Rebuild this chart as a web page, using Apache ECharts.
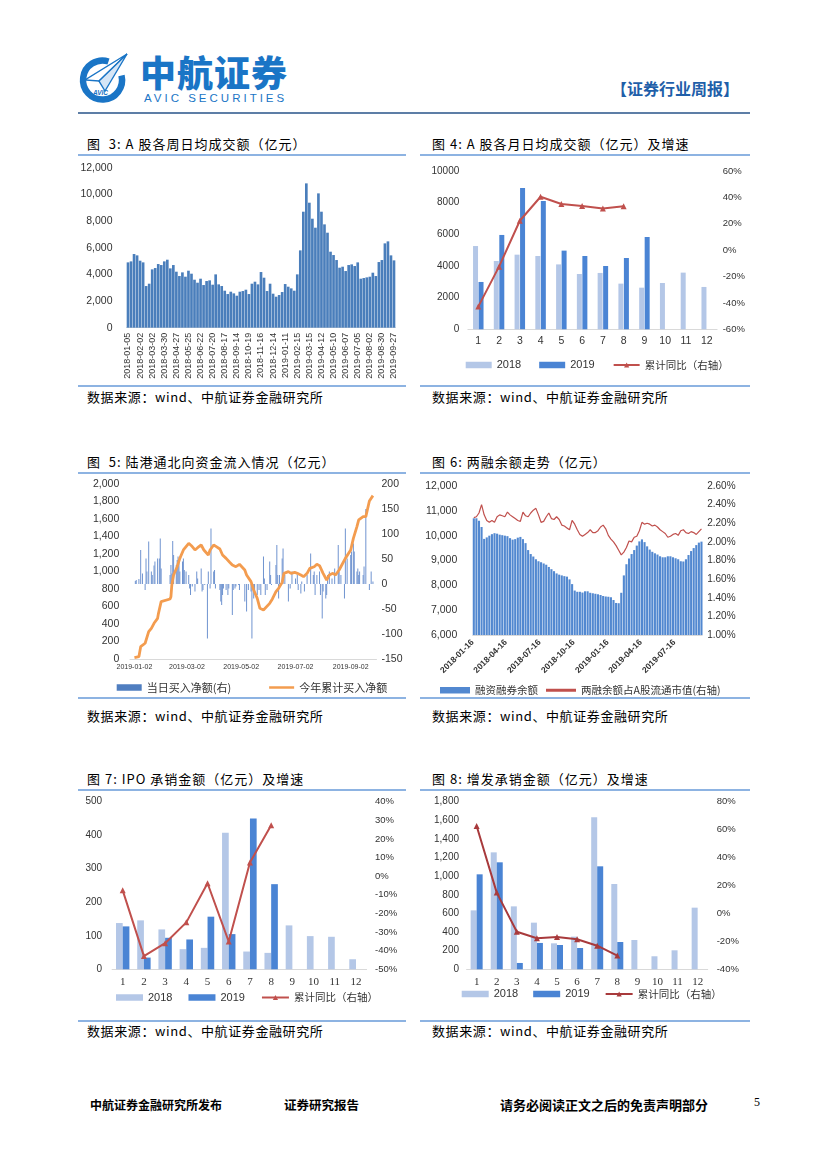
<!DOCTYPE html>
<html lang="zh">
<head>
<meta charset="utf-8">
<title>证券行业周报</title>
<script src="https://cdn.jsdelivr.net/npm/echarts@6.0.0/dist/echarts.min.js"></script>
<style>
html,body{margin:0;padding:0;background:#fff;}
#page{position:relative;width:827px;height:1169px;overflow:hidden;font-family:"Noto Sans CJK SC","Noto Sans",sans-serif;color:#000;}
.ch{position:absolute;left:0;top:0;width:827px;height:1169px;}
.t{position:absolute;white-space:pre;line-height:16px;height:16px;}
.ttl{font-size:13px;letter-spacing:1px;}
.src{font-size:13px;letter-spacing:0.6px;}
.rule{position:absolute;height:2px;background:#8db3e2;}
.ft{font-weight:bold;}
</style>
</head>
<body>
<div id="page">
  <!-- header -->
  <svg style="position:absolute;left:78px;top:50px" width="52" height="54" viewBox="0 0 52 54">
    <path d="M43.5 25.5 A19.5 19.5 0 1 1 30.5 11.5" fill="none" stroke="#1a75c6" stroke-width="6.5"/>
    <polygon points="49,4 7,30 21,31" fill="#ffffff" stroke="#1a75c6" stroke-width="1.4"/>
    <polygon points="49,4 21,31 27,41" fill="#d6e6f6" stroke="#1a75c6" stroke-width="1.4"/>
    <text x="15" y="45" font-size="6.5" font-style="italic" font-weight="bold" fill="#1a75c6" font-family="Liberation Sans">AVIC</text>
  </svg>
  <div class="t" style="left:140px;top:50px;height:42px;line-height:42px;font-size:36px;font-weight:900;color:#1a75c6;letter-spacing:1px;">中航证券</div>
  <div class="t" style="left:144px;top:90px;font-size:11.5px;font-family:'Liberation Sans';letter-spacing:3px;color:#1a75c6;">AVIC SECURITIES</div>
  <div class="t" style="left:611px;top:80px;font-size:16px;font-weight:bold;color:#1f5fa9;">【证券行业周报】</div>
  <div style="position:absolute;left:78px;top:112px;width:672px;height:2px;background:#5d7ea6;"></div>

  <!-- titles row 1 -->
  <div class="t ttl" style="left:87px;top:136px;">图  3: A 股各周日均成交额（亿元）</div>
  <div class="t ttl" style="left:432px;top:136px;">图 4: A 股各月日均成交额（亿元）及增速</div>
  <div class="rule" style="left:78px;top:154px;width:328px;"></div>
  <div class="rule" style="left:420px;top:154px;width:330px;"></div>
  <div class="rule" style="left:78px;top:385px;width:328px;"></div>
  <div class="rule" style="left:420px;top:385px;width:330px;"></div>
  <div class="t src" style="left:87px;top:389px;">数据来源：wind、中航证券金融研究所</div>
  <div class="t src" style="left:432px;top:389px;">数据来源：wind、中航证券金融研究所</div>

  <!-- titles row 2 -->
  <div class="t ttl" style="left:87px;top:454px;">图  5: 陆港通北向资金流入情况（亿元）</div>
  <div class="t ttl" style="left:432px;top:454px;">图 6: 两融余额走势（亿元）</div>
  <div class="rule" style="left:78px;top:472px;width:328px;"></div>
  <div class="rule" style="left:420px;top:472px;width:330px;"></div>
  <div class="rule" style="left:78px;top:697px;width:328px;"></div>
  <div class="rule" style="left:420px;top:697px;width:330px;"></div>
  <div class="t src" style="left:87px;top:708px;">数据来源：wind、中航证券金融研究所</div>
  <div class="t src" style="left:432px;top:708px;">数据来源：wind、中航证券金融研究所</div>

  <!-- titles row 3 -->
  <div class="t ttl" style="left:87px;top:771px;">图 7: IPO 承销金额（亿元）及增速</div>
  <div class="t ttl" style="left:432px;top:771px;">图 8: 增发承销金额（亿元）及增速</div>
  <div class="rule" style="left:78px;top:789px;width:328px;"></div>
  <div class="rule" style="left:420px;top:789px;width:330px;"></div>
  <div class="rule" style="left:78px;top:1020px;width:328px;"></div>
  <div class="rule" style="left:420px;top:1020px;width:330px;"></div>
  <div class="t src" style="left:87px;top:1023px;">数据来源：wind、中航证券金融研究所</div>
  <div class="t src" style="left:432px;top:1023px;">数据来源：wind、中航证券金融研究所</div>

  <!-- footer -->
  <div class="t ft" style="left:90px;top:1097px;font-size:12px;">中航证券金融研究所发布</div>
  <div class="t ft" style="left:284px;top:1097px;font-size:12.5px;">证券研究报告</div>
  <div class="t ft" style="left:500px;top:1097px;font-size:13px;">请务必阅读正文之后的免责声明部分</div>
  <div class="t" style="left:754px;top:1094px;font-size:12px;font-family:'Liberation Serif';">5</div>

  <div id="c3" class="ch"></div>
  <div id="c4" class="ch"></div>
  <div id="c5" class="ch"></div>
  <div id="c6" class="ch"></div>
  <div id="c7" class="ch"></div>
  <div id="c8" class="ch"></div>
</div>
<script>
// ---------------- data ----------------
const months = ['1','2','3','4','5','6','7','8','9','10','11','12'];

// Fig 3: weekly average daily turnover (亿元)
const c3Weeks = [
 '2018-01-05','2018-01-12','2018-01-19','2018-01-26','2018-02-02','2018-02-09','2018-02-16','2018-02-23',
 '2018-03-02','2018-03-09','2018-03-16','2018-03-23','2018-03-30','2018-04-06','2018-04-13','2018-04-20',
 '2018-04-27','2018-05-04','2018-05-11','2018-05-18','2018-05-25','2018-06-01','2018-06-08','2018-06-15',
 '2018-06-22','2018-06-29','2018-07-06','2018-07-13','2018-07-20','2018-07-27','2018-08-03','2018-08-10',
 '2018-08-17','2018-08-24','2018-08-31','2018-09-07','2018-09-14','2018-09-21','2018-09-28','2018-10-12',
 '2018-10-19','2018-10-26','2018-11-02','2018-11-09','2018-11-16','2018-11-23','2018-11-30','2018-12-07',
 '2018-12-14','2018-12-21','2018-12-28','2019-01-04','2019-01-11','2019-01-18','2019-01-25','2019-02-01',
 '2019-02-15','2019-02-22','2019-03-01','2019-03-08','2019-03-15','2019-03-22','2019-03-29','2019-04-05',
 '2019-04-12','2019-04-19','2019-04-26','2019-05-03','2019-05-10','2019-05-17','2019-05-24','2019-05-31',
 '2019-06-07','2019-06-14','2019-06-21','2019-06-28','2019-07-05','2019-07-12','2019-07-19','2019-07-26',
 '2019-08-02','2019-08-09','2019-08-16','2019-08-23','2019-08-30','2019-09-06','2019-09-13','2019-09-20',
 '2019-09-27'];
const c3Turnover = [
 4900,4975,5525,5425,5025,4900,3125,3300,4375,4475,4775,4700,4975,5100,4450,4700,
 4200,3875,4150,3825,4275,4050,3600,3375,3675,3200,3500,3550,3225,4000,3250,3125,
 2775,2525,2700,2575,2400,2700,2750,2850,2525,3300,3450,3250,4175,3750,2750,3300,
 2550,2325,2450,2675,3275,3075,2950,2775,4000,5800,8700,10825,9375,8175,7500,10075,
 8700,7750,7125,5700,5450,5075,4500,4575,4250,4700,4750,4625,4900,3675,3725,3775,
 3825,4125,3875,4925,5075,6325,6475,5425,5050];

// Fig 4: monthly average daily turnover and cumulative YoY
const c4Avg2018 = [5260,4315,4715,4630,4100,3495,3560,2885,2630,2925,3580,2675];
const c4Avg2019 = [2990,5960,8925,8105,4970,4630,4000,4505,5830];
const c4YoY = [-42.8,-12.5,22.3,40.5,35,33.5,31.5,33.2];

// Fig 5: northbound flows (daily bars, right axis; cumulative line, left axis)
const c5BarDates = [
 '01-03','01-04','01-07','01-09','01-11','01-14','01-15','01-16','01-18','01-21','01-22','01-24','01-25','01-28','01-30','01-31',
 '02-01','02-11','02-12','02-13','02-14','02-15','02-18','02-19','02-20','02-21','02-22','02-25','02-26','02-27',
 '03-01','03-04','03-05','03-06','03-08','03-11','03-13','03-14','03-18','03-19','03-20','03-22','03-25','03-26','03-28','03-29',
 '04-01','04-02','04-03','04-08','04-09','04-10','04-11','04-12','04-15','04-17','04-18','04-22','04-23','04-25','04-26','04-29','04-30',
 '05-06','05-08','05-10','05-13','05-14','05-16','05-17','05-20','05-22','05-24','05-27','05-28','05-29','05-31',
 '06-03','06-04','06-05','06-10','06-11','06-12','06-13','06-14','06-17','06-18','06-20','06-24','06-26','06-28',
 '07-02','07-04','07-05','07-08','07-09','07-12','07-15','07-19','07-22','07-23','07-24','07-26','07-29','07-30',
 '08-01','08-02','08-05','08-06','08-07','08-09','08-12','08-15','08-19','08-20','08-22','08-26','08-27','08-29',
 '09-02','09-03','09-05','09-06','09-09','09-10','09-11','09-12','09-16','09-17','09-19','09-23','09-25','09-27'];
const c5BarVals = [
 6,8,10,68,21,-12,51,25,85,25,18,37,45,51,51,91,
 31,18,38,21,86,58,38,48,55,45,25,45,51,28,
 25,18,-9,-22,-5,-15,25,11,31,-15,-12,-2,-109,25,-9,111,
 25,28,-9,-12,-35,-42,-22,-9,-12,-22,-9,-62,-12,-9,-5,-2,-12,
 -35,-55,-12,-15,-109,-29,-15,-22,-12,-22,55,11,-22,-12,
 45,18,-2,38,78,18,-29,18,51,71,18,-35,-9,25,
 11,18,-12,-19,5,-15,18,61,18,25,-22,18,25,-22,
 -69,-15,-29,-22,18,25,11,31,78,25,18,-29,111,51,
 58,65,81,65,25,31,18,25,18,35,150,-12,25,5];
const c5LineDates = [
 '01-02','01-07','01-09','01-14','01-16','01-18','01-21','01-24','01-28','01-29','02-01','02-11','02-12','02-13','02-15','02-19',
 '02-22','02-26','03-01','03-04','03-07','03-11','03-14','03-18','03-21','03-26','03-28','04-01','04-04','04-08','04-11','04-15',
 '04-19','04-22','04-26','04-30','05-06','05-08','05-13','05-16','05-20','05-23','05-27','05-29','06-03','06-06','06-10','06-13',
 '06-17','06-19','06-24','06-27','07-01','07-04','07-08','07-11','07-15','07-18','07-23','07-26','07-29','08-02','08-06','08-09',
 '08-13','08-16','08-20','08-23','08-27','09-02','09-05','09-09','09-11','09-16','09-19','09-23','09-25','09-27'];
const c5LineVals = [
 15,27,141,180,160,312,350,408,465,522,655,686,712,846,960,1055,
 1150,1246,1284,1322,1295,1246,1272,1303,1246,1189,1246,1303,1284,1257,1189,1150,
 1105,1074,1055,1082,1017,960,884,789,693,579,560,579,636,686,770,808,
 876,979,998,979,991,979,960,941,979,1036,1055,1082,1067,979,903,960,
 979,960,1017,1074,1150,1246,1379,1513,1589,1627,1627,1806,1817,1867];
const c5Ticks = ['2019-01-02','2019-03-02','2019-05-02','2019-07-02','2019-09-02'];

// Fig 6: margin balance (weekly) and ratio to A-share float cap
const c6Weeks = [
 '2018-01-19','2018-01-26','2018-02-02','2018-02-09','2018-02-16','2018-02-23','2018-03-02','2018-03-09','2018-03-16','2018-03-23',
 '2018-03-30','2018-04-06','2018-04-13','2018-04-20','2018-04-27','2018-05-04','2018-05-11','2018-05-18','2018-05-25','2018-06-01',
 '2018-06-08','2018-06-15','2018-06-22','2018-06-29','2018-07-06','2018-07-13','2018-07-20','2018-07-27','2018-08-03','2018-08-10',
 '2018-08-17','2018-08-24','2018-08-31','2018-09-07','2018-09-14','2018-09-21','2018-09-28','2018-10-05','2018-10-12','2018-10-19',
 '2018-10-26','2018-11-02','2018-11-09','2018-11-16','2018-11-23','2018-11-30','2018-12-07','2018-12-14','2018-12-21','2018-12-28',
 '2019-01-04','2019-01-11','2019-01-18','2019-01-25','2019-02-01','2019-02-08','2019-02-15','2019-02-22','2019-03-01','2019-03-08',
 '2019-03-15','2019-03-22','2019-03-29','2019-04-05','2019-04-12','2019-04-19','2019-04-26','2019-05-03','2019-05-10','2019-05-17',
 '2019-05-24','2019-05-31','2019-06-07','2019-06-14','2019-06-21','2019-06-28','2019-07-05','2019-07-12','2019-07-19','2019-07-26',
 '2019-08-02','2019-08-09','2019-08-16','2019-08-23','2019-08-30','2019-09-06','2019-09-13','2019-09-20','2019-09-27'];
const c6Balance = [
 10700,10700,10600,10350,9870,9930,10000,10060,10100,10080,
 10040,10020,10000,9980,9900,9840,9860,9920,9950,9860,
 9700,9420,9260,9160,9050,8970,8930,8880,8830,8740,
 8650,8570,8480,8430,8400,8370,8350,8240,8050,7790,
 7740,7740,7710,7760,7760,7700,7680,7660,7640,7610,
 7570,7550,7540,7520,7410,7290,7280,7700,8400,8850,
 9080,9260,9420,9600,9770,9850,9740,9570,9440,9350,
 9290,9240,9170,9130,9130,9170,9170,9130,9090,9050,
 8970,8960,9050,9220,9380,9500,9620,9720,9760];
const c6Ratio = [
 2.26,2.27,2.31,2.40,2.29,2.23,2.21,2.23,2.21,2.27,
 2.29,2.28,2.27,2.32,2.29,2.27,2.25,2.23,2.22,2.32,
 2.28,2.27,2.31,2.34,2.36,2.29,2.21,2.22,2.27,2.31,
 2.25,2.24,2.27,2.24,2.18,2.17,2.15,2.13,2.23,2.19,
 2.13,2.08,2.06,2.08,2.10,2.13,2.10,2.10,2.12,2.16,
 2.18,2.14,2.07,2.03,2.00,1.96,1.91,1.86,1.89,1.94,
 2.01,2.00,2.05,2.06,2.12,2.21,2.19,2.20,2.19,2.17,
 2.18,2.16,2.13,2.11,2.09,2.05,2.06,2.08,2.09,2.07,
 2.12,2.13,2.10,2.09,2.11,2.10,2.08,2.11,2.14];
const c6Ticks = ['2018-01-16','2018-04-16','2018-07-16','2018-10-16','2019-01-16','2019-04-16','2019-07-16'];

// Fig 7: IPO underwriting
const c7Ipo2018 = [138,146,119,60,64,407,53,49,131,99,97,30];
const c7Ipo2019 = [128,35,94,89,157,105,450,254];
const c7YoY = [-7.6,-42.9,-36,-24.8,-3.8,-35.1,7.4,27.4];

// Fig 8: follow-on offering underwriting
const c8Seo2018 = [633,1256,676,501,279,351,1632,916,315,140,204,662];
const c8Seo2019 = [1020,1149,68,283,261,229,1106,293];
const c8YoY = [62.6,14.9,-13.1,-17.8,-16.9,-18.5,-23.1,-30.2];

// ---------------- helpers ----------------
const SANS = 'Liberation Sans';
const SERIF = 'Liberation Serif';
const CJK = 'Noto Sans CJK SC';
const LBL = '#333333';
const LINE_ICON = 'path://M0,0H30V3H0Z';
const thousands = v => String(v).replace(/\B(?=(\d{3})+(?!\d))/g, ',');
const ts = s => { const p = s.split('-').map(Number); return new Date(p[0], p[1]-1, p[2]).getTime(); };
const pad = n => (n < 10 ? '0' : '') + n;
const fmtDate = v => { const d = new Date(v); return d.getFullYear() + '-' + pad(d.getMonth()+1) + '-' + pad(d.getDate()); };
const pageH = 1169, pageW = 827;
function grid(l, t, r, b) { return {left: l, top: t, right: pageW - r, bottom: pageH - b, containLabel: false, outerBoundsMode: 'none'}; }
function mk(id, opt) {
  try {
    const c = echarts.init(document.getElementById(id), null, {renderer: 'canvas'});
    opt.animation = false; c.setOption(opt);
  } catch (e) { console.error(id, e); }
}

// ---------------- Fig 3 ----------------
mk('c3', {
  grid: grid(126.5, 167.7, 395.5, 327.7),
  xAxis: {type: 'category', data: c3Weeks,
    axisLine: {lineStyle: {color: '#d9d9d9'}}, axisTick: {show: false},
    axisLabel: {interval: 3, rotate: 90, fontSize: 9, fontFamily: SANS, color: LBL, margin: 5}},
  yAxis: {type: 'value', min: 0, max: 12000, interval: 2000,
    axisLine: {show: false}, axisTick: {show: false}, splitLine: {show: false},
    axisLabel: {formatter: thousands, fontSize: 10.5, fontFamily: SANS, color: LBL, margin: 14}},
  series: [{type: 'bar', data: c3Turnover, barCategoryGap: '12%', itemStyle: {color: '#4a7ebb'}}]
});

// ---------------- monthly dual-axis (Fig 4, 7, 8) ----------------
function monthly(id, c) {
  mk(id, {
    grid: grid(c.g[0], c.g[1], c.g[2], c.g[3]),
    legend: {left: c.lg[0], top: c.lg[1], padding: 0, itemWidth: c.lgW, itemHeight: 6.5, itemGap: c.lgGap,
      textStyle: {fontSize: 10.5, fontFamily: CJK, color: '#333'},
      data: [{name: '2018', icon: 'rect', textStyle: {fontFamily: SANS, fontSize: 11}},
             {name: '2019', icon: 'rect', textStyle: {fontFamily: SANS, fontSize: 11}},
             {name: '累计同比（右轴）'}]},
    xAxis: {type: 'category', data: months,
      axisLine: {lineStyle: {color: '#d9d9d9'}}, axisTick: {show: false},
      axisLabel: {fontSize: c.xFs, fontFamily: c.xFont, color: LBL, margin: c.xMargin}},
    yAxis: [
      {type: 'value', min: c.l[0], max: c.l[1], interval: c.l[2], position: 'left',
        axisLine: {show: false}, axisTick: {show: false}, splitLine: {show: false},
        axisLabel: {formatter: c.lFmt, fontSize: 10, fontFamily: SANS, color: LBL, margin: c.lMargin}},
      {type: 'value', min: c.r[0], max: c.r[1], interval: c.r[2], position: 'right',
        axisLine: {show: false}, axisTick: {show: false}, splitLine: {show: false},
        axisLabel: {formatter: '{value}%', fontSize: 9.5, fontFamily: SANS, color: LBL, margin: c.rMargin}}
    ],
    series: [
      {name: '2018', type: 'bar', data: c.a, barWidth: c.bw, barGap: c.gap, itemStyle: {color: '#b4c7e7'}},
      {name: '2019', type: 'bar', data: c.b, barWidth: c.bw, barGap: c.gap, itemStyle: {color: '#4a84d4'}},
      {name: '累计同比（右轴）', type: 'line', yAxisIndex: 1, data: c.y, symbol: 'triangle', symbolSize: 6,
        itemStyle: {color: c.lc}, lineStyle: {color: c.lc, width: 2}}
    ]
  });
}

monthly('c4', {g: [467.9, 171, 717.1, 329.3], lg: [465.7, 359.5], lgW: 26, lgGap: 18,
  xFs: 10.5, xFont: SANS, xMargin: 6, l: [0, 10000, 2000], lFmt: v => String(v), lMargin: 8.6,
  r: [-60, 60, 20], rMargin: 5.6, a: c4Avg2018, b: c4Avg2019, y: c4YoY, bw: 5, gap: '10%', lc: '#c0504d'});

monthly('c7', {g: [112.1, 801.7, 366.6, 969.3], lg: [116, 992], lgW: 27, lgGap: 16,
  xFs: 11, xFont: SERIF, xMargin: 7, l: [0, 500, 100], lFmt: v => String(v), lMargin: 10,
  r: [-50, 40, 10], rMargin: 8.4, a: c7Ipo2018, b: c7Ipo2019, y: c7YoY, bw: 6.7, gap: '0%', lc: '#c0504d'});

monthly('c8', {g: [466.6, 801.7, 707.7, 969.3], lg: [461.7, 988.5], lgW: 27, lgGap: 15,
  xFs: 11, xFont: SERIF, xMargin: 7, l: [0, 1800, 200], lFmt: thousands, lMargin: 7.6,
  r: [-40, 80, 20], rMargin: 9, a: c8Seo2018, b: c8Seo2019, y: c8YoY, bw: 6, gap: '0%', lc: '#a83a3c'});

// ---------------- Fig 5 (date positions on a value axis of timestamps) ----------------
mk('c5', {
  grid: grid(130, 484, 376.5, 659),
  legend: {left: 116.7, top: 682, padding: 0, itemWidth: 25, itemHeight: 6.5, itemGap: 38,
    textStyle: {fontSize: 11, fontFamily: CJK, color: '#333'},
    data: [{name: '当日买入净额(右)', icon: 'rect', itemStyle: {color: '#4f7ec0'}},
           {name: '今年累计买入净额', icon: LINE_ICON}]},
  xAxis: {type: 'value', min: ts('2018-12-28'), max: ts('2019-10-01'), scale: true,
    axisLine: {show: true, onZero: false, lineStyle: {color: '#d9d9d9'}}, axisTick: {show: false}, splitLine: {show: false},
    axisLabel: {customValues: c5Ticks.map(ts), formatter: v => fmtDate(v), fontSize: 7, fontFamily: SANS, color: LBL, margin: 5, hideOverlap: false}},
  yAxis: [
    {type: 'value', min: 0, max: 2000, interval: 200, position: 'left',
      axisLine: {show: false}, axisTick: {show: false}, splitLine: {show: false},
      axisLabel: {formatter: thousands, fontSize: 10.5, fontFamily: SANS, color: LBL, margin: 10.7}},
    {type: 'value', min: -150, max: 200, interval: 50, position: 'right',
      axisLine: {show: false}, axisTick: {show: false}, splitLine: {show: false},
      axisLabel: {fontSize: 10.5, fontFamily: SANS, color: LBL, margin: 5}}
  ],
  series: [
    {name: '当日买入净额(右)', type: 'bar', yAxisIndex: 1, barWidth: 1,
      data: c5BarDates.map((d, i) => [ts('2019-' + d), c5BarVals[i]]), itemStyle: {color: '#7094d0'}},
    {name: '今年累计买入净额', type: 'line', yAxisIndex: 0, showSymbol: false, symbol: 'none',
      data: c5LineDates.map((d, i) => [ts('2019-' + d), c5LineVals[i]]),
      itemStyle: {color: '#f39c4f'}, lineStyle: {color: '#f39c4f', width: 2.8}}
  ]
});

// ---------------- Fig 6 ----------------
mk('c6', {
  grid: grid(472.7, 486, 702.2, 635),
  legend: {left: 440, top: 685, padding: 0, itemWidth: 30, itemHeight: 6.5, itemGap: 8,
    textStyle: {fontSize: 10.5, fontFamily: CJK, color: '#333'},
    data: [{name: '融资融券余额', icon: 'rect'}, {name: '两融余额占A股流通市值(右轴)', icon: LINE_ICON}]},
  xAxis: {type: 'value', min: ts('2018-01-16'), max: ts('2019-09-29'), scale: true,
    axisLine: {show: true, onZero: false, lineStyle: {color: '#d9d9d9'}}, axisTick: {show: false}, splitLine: {show: false},
    axisLabel: {customValues: c6Ticks.map(ts), formatter: v => fmtDate(v), rotate: 45, fontSize: 8.5, fontWeight: 'bold',
      fontFamily: SANS, color: LBL, margin: 6, hideOverlap: false}},
  yAxis: [
    {type: 'value', min: 6000, max: 12000, interval: 1000, position: 'left',
      axisLine: {show: false}, axisTick: {show: false}, splitLine: {show: false},
      axisLabel: {formatter: thousands, fontSize: 10.5, fontFamily: SANS, color: LBL, margin: 15.4}},
    {type: 'value', min: 1.0, max: 2.6, interval: 0.2, position: 'right',
      axisLine: {show: false}, axisTick: {show: false}, splitLine: {show: false},
      axisLabel: {formatter: v => v.toFixed(2) + '%', fontSize: 10, fontFamily: SANS, color: LBL, margin: 5}}
  ],
  series: [
    {name: '融资融券余额', type: 'bar', yAxisIndex: 0, barWidth: 2.1,
      data: c6Weeks.map((d, i) => [ts(d), c6Balance[i]]), itemStyle: {color: '#5288d0'}},
    {name: '两融余额占A股流通市值(右轴)', type: 'line', yAxisIndex: 1, showSymbol: false, symbol: 'none',
      data: c6Weeks.map((d, i) => [ts(d), c6Ratio[i]]),
      itemStyle: {color: '#c0504d'}, lineStyle: {color: '#c0504d', width: 1.2}}
  ]
});
</script>
</body>
</html>
